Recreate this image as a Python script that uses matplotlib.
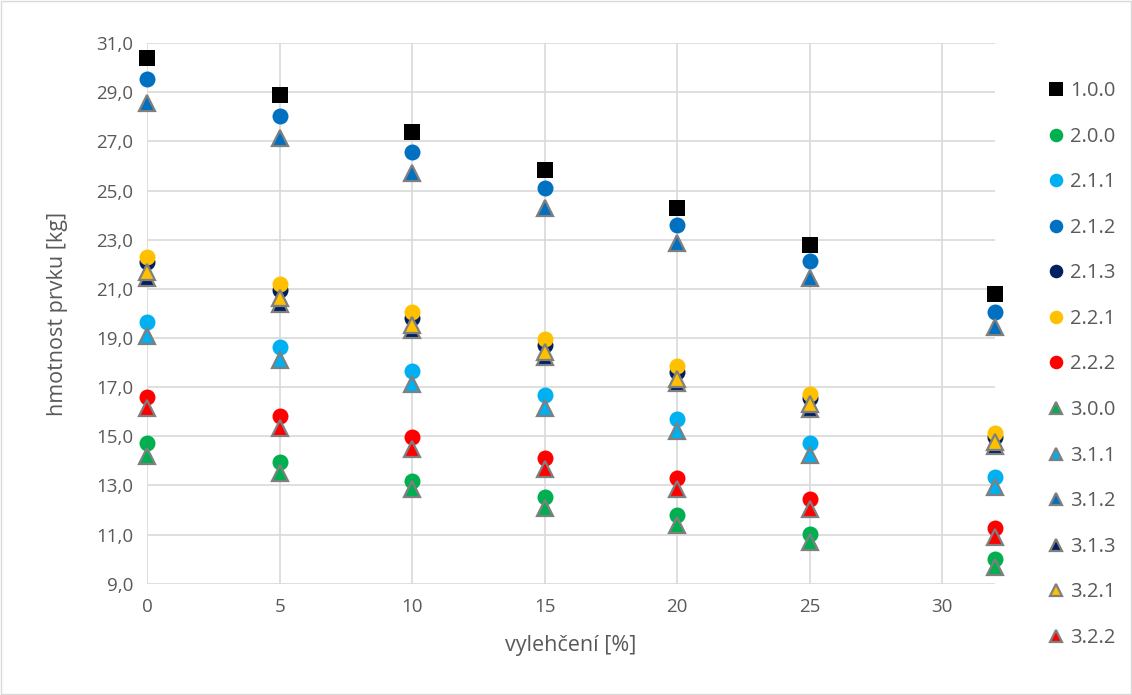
import matplotlib.pyplot as plt
from matplotlib.ticker import FuncFormatter, FixedLocator, MultipleLocator

#---------------- data
x = [0, 5, 10, 15, 20, 25, 32]

s_100 = [30.39, 28.89, 27.38, 25.84, 24.29, 22.79, 20.80]
s_200 = [14.74, 13.97, 13.20, 12.54, 11.81, 11.04, 10.02]
s_211 = [19.66, 18.64, 17.67, 16.69, 15.72, 14.74, 13.36]
s_212 = [29.54, 28.03, 26.57, 25.10, 23.60, 22.14, 20.07]
s_213 = [22.10, 20.96, 19.82, 18.72, 17.63, 16.57, 14.98]
s_221 = [22.30, 21.20, 20.07, 18.97, 17.87, 16.73, 15.15]
s_222 = [16.61, 15.84, 14.98, 14.13, 13.32, 12.46, 11.28]
s_300 = [14.21, 13.52, 12.87, 12.10, 11.41, 10.72, 9.70]
s_311 = [19.09, 18.11, 17.14, 16.16, 15.23, 14.25, 12.95]
s_312 = [28.56, 27.14, 25.72, 24.29, 22.87, 21.45, 19.45]
s_313 = [21.45, 20.40, 19.33, 18.24, 17.18, 16.12, 14.60]
s_321 = [21.70, 20.63, 19.54, 18.44, 17.34, 16.30, 14.78]
s_322 = [16.16, 15.35, 14.50, 13.68, 12.87, 12.06, 10.92]

labels = ["1.0.0", "2.0.0", "2.1.1", "2.1.2", "2.1.3", "2.2.1", "2.2.2",
          "3.0.0", "3.1.1", "3.1.2", "3.1.3", "3.2.1", "3.2.2"]
series = [s_100, s_200, s_211, s_212, s_213, s_221, s_222,
          s_300, s_311, s_312, s_313, s_321, s_322]
colors = ["#000000", "#00B050", "#00B0F0", "#0070C0", "#002060", "#FFC000", "#FF0000",
          "#00B050", "#00B0F0", "#0070C0", "#002060", "#FFC000", "#FF0000"]
markers = ["s"] + ["o"] * 6 + ["^"] * 6
y_ticks = [9, 11, 13, 15, 17, 19, 21, 23, 25, 27, 29, 31]

#---------------- figure
plt.rcParams['font.family'] = ['Open Sans', 'DejaVu Sans']
txt = "#595959"

fig = plt.figure(figsize=(11.32, 6.95), dpi=100)
ax = fig.add_axes([0.130, 0.160, 0.749, 0.778])

for lab, ys, c, m in zip(labels, series, colors, markers):
    if m == "^":
        ax.plot(x, ys, linestyle="none", marker=m, markersize=11, color=c,
                markeredgecolor="#7F7F7F", markeredgewidth=1.6, label=lab, clip_on=False)
    else:
        ax.plot(x, ys, linestyle="none", marker=m, markersize=11.5, color=c,
                markeredgewidth=0, label=lab, clip_on=False)

ax.set_xlim(0, 32)
ax.set_ylim(9, 31)
ax.xaxis.set_major_locator(MultipleLocator(5))
ax.yaxis.set_major_locator(FixedLocator(y_ticks))
ax.yaxis.set_major_formatter(FuncFormatter(lambda v, p: f"{v:.1f}".replace(".", ",")))
ax.grid(True, color="#D9D9D9", linewidth=1.2)
ax.set_axisbelow(True)
for sp in ax.spines.values():
    sp.set_visible(False)
ax.tick_params(length=0, labelsize=13.5, labelcolor=txt, pad=10)

ax.set_xlabel("vylehčení [%]", fontsize=15.5, color=txt, labelpad=14)
ax.set_ylabel("hmotnost prvku [kg]", fontsize=15.5, color=txt, labelpad=20)

fig.legend(loc="upper left", bbox_to_anchor=(0.917, 0.895), frameon=False,
           fontsize=14.5, labelcolor=txt, handletextpad=0.2, labelspacing=1.27,
           handlelength=1.0, borderaxespad=0, markerscale=0.85)

# light border around the chart area
fig.patches.append(plt.Rectangle((0.001, 0.001), 0.998, 0.998, transform=fig.transFigure,
                                 fill=False, edgecolor="#D9D9D9", linewidth=1))

fig.savefig("out.png", dpi=100)
